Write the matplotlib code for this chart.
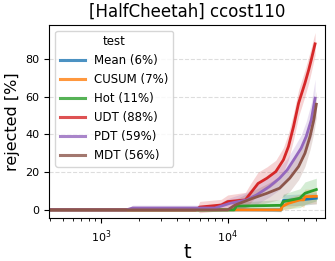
import numpy as np
import matplotlib
matplotlib.use("Agg")
import matplotlib.pyplot as plt

title = "[HalfCheetah] ccost110"
legend_title = "test"
series_names = ["Mean (6%)", "CUSUM (7%)", "Hot (11%)", "UDT (88%)", "PDT (59%)", "MDT (56%)"]
colors = ["#1f77b4", "#ff7f0e", "#2ca02c", "#d62728", "#9467bd", "#8c564b"]

# log10(t) knots and values (percent), plus band half-widths
mean_x = [2.6, 4.0, 4.42, 4.44, 4.6, 4.7]
mean_y = [0, 0, 0, 5.0, 5.5, 6.2]
mean_w = [0, 0, 1, 3, 3, 3]

cusum_x = [2.6, 4.35, 4.42, 4.43, 4.48, 4.57, 4.6, 4.61, 4.7]
cusum_y = [0, 0, 0, 1.8, 3.5, 5.3, 5.3, 7.0, 7.2]
cusum_w = [0, 0, 1, 2, 3, 3, 4, 4, 4]

hot_x = [2.6, 4.05, 4.07, 4.4, 4.42, 4.44, 4.57, 4.61, 4.7]
hot_y = [0, 0, 2.0, 2.4, 2.4, 4.4, 6.2, 8.8, 10.8]
hot_w = [0, 0, 2, 3, 3, 4, 5, 6, 6]

udt_x = [2.6, 3.75, 3.78, 3.95, 4.0, 4.14, 4.18, 4.24, 4.31, 4.38, 4.44, 4.48, 4.52, 4.56, 4.61, 4.64, 4.66, 4.69]
udt_y = [0, 0, 1.5, 2.6, 4.4, 5.3, 8.8, 14.0, 16.8, 20.3, 26.5, 33.6, 44.2, 56.6, 67.2, 74.3, 79.6, 88.0]
udt_w = [0, 0, 3, 3, 3.5, 4, 5, 6, 6, 6, 6.5, 7, 7, 7, 7, 7, 6.5, 6]

pdt_x = [2.6, 3.2, 3.25, 3.9, 4.02, 4.15, 4.23, 4.33, 4.41, 4.47, 4.53, 4.58, 4.62, 4.66, 4.69]
pdt_y = [0, 0, 1.0, 1.0, 3.5, 5.3, 8.0, 12.4, 16.8, 21.2, 27.4, 32.7, 38.9, 47.7, 59.2]
pdt_w = [0, 0, 1.5, 1.5, 3, 4, 5, 5.5, 6, 6, 6.5, 7, 8, 9, 10]

mdt_x = [2.6, 4.0, 4.06, 4.2, 4.31, 4.41, 4.49, 4.56, 4.61, 4.65, 4.68, 4.70]
mdt_y = [0, 0, 2.6, 6.2, 8.8, 11.5, 16.8, 23.0, 30.0, 38.9, 47.7, 56.0]
mdt_w = [0, 0, 3, 4, 5, 6, 7, 7, 7, 7, 7, 7]

all_x = [mean_x, cusum_x, hot_x, udt_x, pdt_x, mdt_x]
all_y = [mean_y, cusum_y, hot_y, udt_y, pdt_y, mdt_y]
all_w = [mean_w, cusum_w, hot_w, udt_w, pdt_w, mdt_w]

fig = plt.figure(figsize=(3.35, 2.61), dpi=100)
ax = fig.add_axes([0.147, 0.164, 0.823, 0.741])

for name, c, xs, ys, ws in zip(series_names, colors, all_x, all_y, all_w):
    t = 10 ** np.array(xs)
    y = np.array(ys)
    w = np.array(ws)
    ax.fill_between(t, y - w, y + w, color=c, alpha=0.2, linewidth=0)
    ax.plot(t, y, color=c, lw=2, label=name)

ax.set_xscale("log")
ax.set_xlim(391, 58600)
ax.set_ylim(-4.4, 98.1)
ax.set_yticks([0, 20, 40, 60, 80])
ax.grid(axis="y", linestyle="--", color="#dddddd", linewidth=0.8)
ax.set_axisbelow(True)
ax.tick_params(labelsize=8)
ax.set_title(title, fontsize=12)
ax.set_xlabel("t", fontsize=14, labelpad=-1)
ax.set_ylabel("rejected [%]", fontsize=11.5, labelpad=4)

leg = ax.legend(title=legend_title, loc="upper left", fontsize=8.5, title_fontsize=8.5,
                framealpha=0.8, borderaxespad=0.5, labelspacing=0.5, handlelength=2.1)
for line in leg.get_lines():
    line.set_alpha(0.8)
    line.set_linewidth(2.2)

fig.savefig("out.png", dpi=100)
